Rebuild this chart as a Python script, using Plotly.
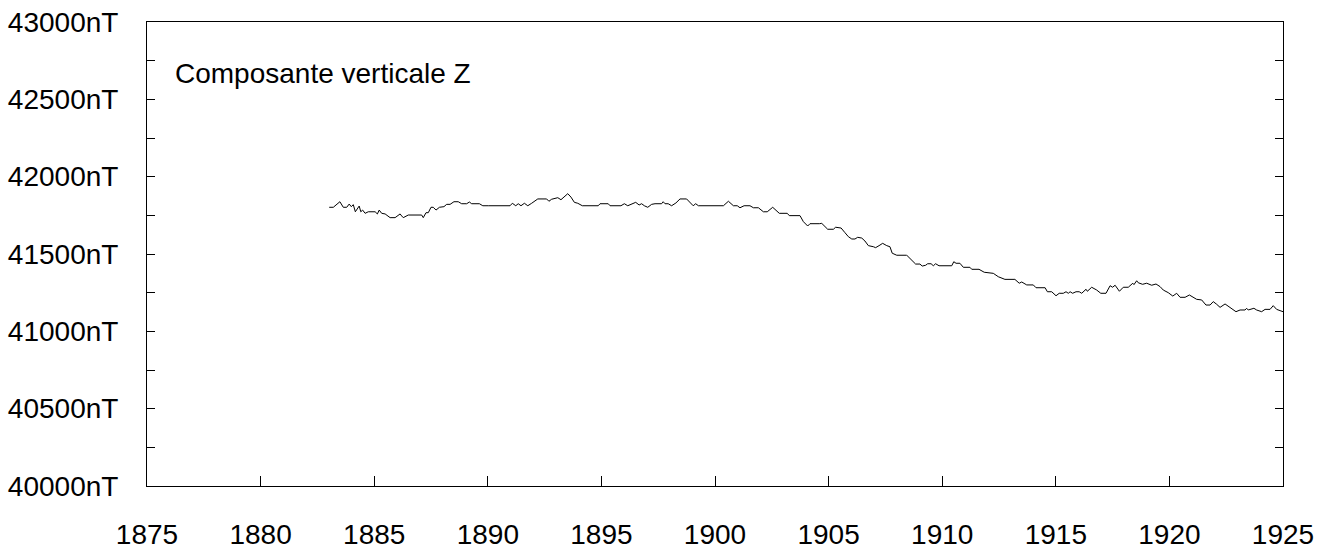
import plotly.graph_objects as go

# Vertical component Z of the geomagnetic field (nT), sampled along the record
years = [
    1883.02, 1883.20, 1883.49, 1883.64, 1883.79, 1883.90, 1883.99, 1884.08, 1884.17, 1884.26,
    1884.34, 1884.41, 1884.49, 1884.60, 1884.74, 1885.04, 1885.14, 1885.22, 1885.33, 1885.48,
    1885.70, 1885.92, 1886.14, 1886.21, 1886.28, 1886.50, 1887.09, 1887.16, 1887.28, 1887.38,
    1887.50, 1887.60, 1887.72, 1887.87, 1888.07, 1888.19, 1888.34, 1888.51, 1888.70, 1888.85,
    1889.07, 1889.19, 1889.29, 1889.63, 1889.78, 1890.02, 1890.98, 1891.08, 1891.23, 1891.34,
    1891.46, 1891.61, 1891.76, 1891.93, 1892.20, 1892.59, 1892.69, 1892.81, 1892.99, 1893.08,
    1893.22, 1893.52, 1893.66, 1893.81, 1893.96, 1894.16, 1894.86, 1894.94, 1895.30, 1895.38,
    1895.86, 1896.01, 1896.16, 1896.33, 1896.51, 1896.66, 1896.77, 1896.89, 1897.04, 1897.21,
    1897.36, 1897.65, 1897.72, 1897.80, 1897.94, 1898.09, 1898.28, 1898.46, 1898.75, 1899.04,
    1899.15, 1899.27, 1900.37, 1900.59, 1900.81, 1900.98, 1901.10, 1901.28, 1901.54, 1901.69,
    1901.91, 1902.13, 1902.30, 1902.54, 1902.83, 1903.18, 1903.27, 1903.74, 1903.89, 1904.08,
    1904.18, 1904.59, 1904.70, 1904.96, 1905.21, 1905.31, 1905.55, 1905.72, 1905.87, 1906.02,
    1906.16, 1906.28, 1906.46, 1906.60, 1906.75, 1906.97, 1907.07, 1907.22, 1907.38, 1907.56,
    1907.70, 1907.80, 1908.00, 1908.44, 1908.66, 1908.83, 1909.02, 1909.12, 1909.27, 1909.36,
    1909.51, 1909.61, 1909.71, 1909.86, 1910.42, 1910.51, 1910.61, 1910.78, 1910.93, 1911.22,
    1911.30, 1911.62, 1911.85, 1912.25, 1912.47, 1912.76, 1913.20, 1913.39, 1913.50, 1913.72,
    1914.01, 1914.13, 1914.53, 1914.63, 1914.82, 1915.01, 1915.15, 1915.33, 1915.45, 1915.55,
    1915.63, 1915.74, 1915.89, 1916.03, 1916.14, 1916.33, 1916.39, 1916.58, 1916.80, 1916.98,
    1917.21, 1917.39, 1917.50, 1917.61, 1917.80, 1917.97, 1918.19, 1918.39, 1918.44, 1918.56,
    1918.63, 1918.82, 1919.00, 1919.22, 1919.41, 1919.59, 1919.73, 1919.95, 1920.15, 1920.32,
    1920.47, 1920.69, 1920.88, 1921.03, 1921.20, 1921.42, 1921.61, 1921.79, 1921.93, 1922.08,
    1922.23, 1922.45, 1922.64, 1922.93, 1923.11, 1923.33, 1923.40, 1923.47, 1923.72, 1923.84,
    1924.06, 1924.21, 1924.43, 1924.57, 1924.72, 1924.94, 1925.00,
]
z_values = [
    41802, 41802, 41838, 41802, 41802, 41823, 41806, 41819, 41773, 41795,
    41810, 41773, 41784, 41763, 41773, 41773, 41759, 41784, 41763, 41759,
    41735, 41735, 41759, 41746, 41735, 41752, 41752, 41735, 41767, 41767,
    41802, 41802, 41784, 41802, 41806, 41821, 41821, 41838, 41838, 41825,
    41825, 41836, 41825, 41825, 41812, 41812, 41812, 41828, 41812, 41825,
    41812, 41828, 41812, 41828, 41856, 41856, 41841, 41854, 41860, 41864,
    41851, 41890, 41868, 41834, 41828, 41812, 41812, 41825, 41825, 41812,
    41812, 41825, 41812, 41821, 41834, 41817, 41825, 41812, 41802, 41821,
    41825, 41825, 41838, 41825, 41825, 41812, 41830, 41856, 41856, 41812,
    41825, 41812, 41812, 41841, 41812, 41812, 41799, 41812, 41812, 41799,
    41799, 41773, 41773, 41802, 41763, 41763, 41748, 41748, 41709, 41681,
    41696, 41696, 41698, 41660, 41660, 41673, 41668, 41638, 41612, 41597,
    41597, 41608, 41603, 41584, 41554, 41547, 41541, 41554, 41569, 41554,
    41547, 41505, 41492, 41492, 41461, 41435, 41435, 41422, 41427, 41437,
    41437, 41424, 41437, 41424, 41424, 41450, 41440, 41440, 41414, 41414,
    41401, 41401, 41382, 41375, 41353, 41336, 41336, 41311, 41319, 41300,
    41300, 41282, 41282, 41256, 41256, 41230, 41246, 41246, 41256, 41246,
    41256, 41246, 41256, 41256, 41246, 41272, 41259, 41285, 41267, 41246,
    41246, 41295, 41285, 41298, 41259, 41285, 41285, 41311, 41302, 41327,
    41314, 41304, 41311, 41298, 41306, 41289, 41267, 41250, 41228, 41246,
    41220, 41220, 41235, 41224, 41207, 41203, 41170, 41170, 41192, 41175,
    41155, 41177, 41155, 41127, 41138, 41138, 41149, 41138, 41149, 41138,
    41127, 41142, 41142, 41166, 41142, 41127, 41127,
]

x_ticks = [1875, 1880, 1885, 1890, 1895, 1900, 1905, 1910, 1915, 1920, 1925]
y_ticks = [40000, 40250, 40500, 40750, 41000, 41250, 41500, 41750,
           42000, 42250, 42500, 42750, 43000]
y_tick_text = ["40000nT", "", "40500nT", "", "41000nT", "", "41500nT", "",
               "42000nT", "", "42500nT", "", "43000nT"]
title_text = "Composante verticale Z"

FONT = "Liberation Sans, Arial, sans-serif"

fig = go.Figure()
fig.add_trace(go.Scatter(
    x=years, y=z_values, mode="lines",
    line=dict(color="#000000", width=1),
    hoverinfo="skip", showlegend=False,
))

fig.update_layout(
    width=1331, height=550,
    margin=dict(l=147, r=48, t=22, b=64),
    paper_bgcolor="white", plot_bgcolor="white",
    font=dict(family=FONT, size=28, color="#000000"),
    xaxis=dict(
        range=[1875, 1925], tickvals=x_ticks, ticktext=[str(v) for v in x_ticks],
        ticks="inside", ticklen=10, tickcolor="#000000", tickwidth=1,
        showline=True, linecolor="#000000", linewidth=1, mirror=True,
        showgrid=False, zeroline=False, ticklabelstandoff=23, automargin=False,
    ),
    yaxis=dict(
        range=[40000, 43000], tickvals=y_ticks, ticktext=y_tick_text,
        ticks="inside", ticklen=8, tickcolor="#000000", tickwidth=1,
        showline=True, linecolor="#000000", linewidth=1, mirror="ticks",
        showgrid=False, zeroline=False, ticklabelstandoff=22, automargin=False,
    ),
    annotations=[dict(
        text=title_text, xref="paper", yref="paper",
        x=0.0229, y=0.890, xanchor="left", yanchor="middle",
        showarrow=False, font=dict(family=FONT, size=28, color="#000000"),
    )],
)

fig.write_html("out.html")
